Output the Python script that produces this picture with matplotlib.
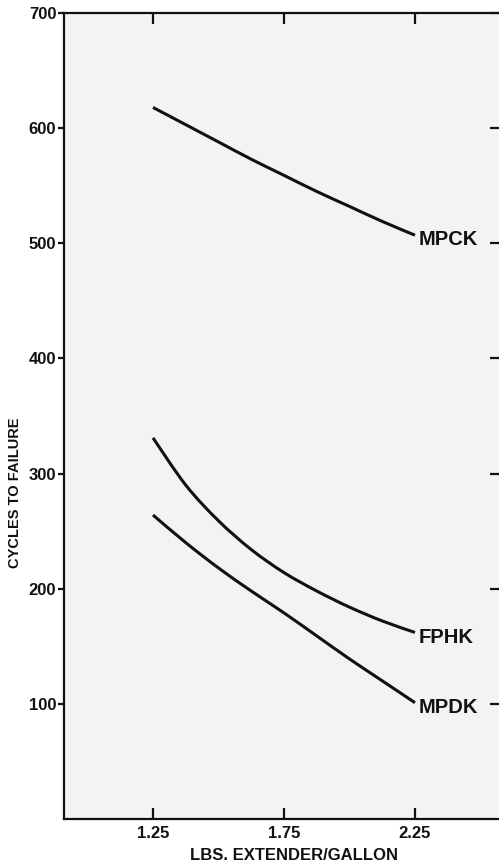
import matplotlib
matplotlib.use("Agg")
import matplotlib.pyplot as plt
from matplotlib.path import Path
from matplotlib.patches import PathPatch
import numpy as np

# Extender loading (lbs per gallon)
extender = [1.25, 1.375, 1.5, 1.625, 1.75, 1.875, 2.0, 2.125, 2.25]

# Cycles to failure for each compound
mpck = [618, 603, 588, 573, 559, 545, 532, 519, 507]
fphk = [331, 290, 259, 234, 214, 198, 184, 172, 162]
mpdk = [264, 240, 218, 198, 179, 159, 139, 120, 101]

series_names = ["MPCK", "FPHK", "MPDK"]
series_values = [mpck, fphk, mpdk]

x_ticks = [1.25, 1.75, 2.25]
x_tick_labels = ["1.25", "1.75", "2.25"]
y_ticks = [100, 200, 300, 400, 500, 600, 700]

plt.rcParams["font.family"] = ["Liberation Sans", "DejaVu Sans"]
plt.rcParams["font.weight"] = "bold"

INK = "#111111"


def smooth_path(xs, ys):
    """Catmull-Rom spline through the points, expressed as cubic Bezier segments."""
    xs = np.asarray(xs, float)
    ys = np.asarray(ys, float)
    pts = np.column_stack([xs, ys])
    verts = [pts[0]]
    codes = [Path.MOVETO]
    n = len(pts)
    for i in range(n - 1):
        p0 = pts[i - 1] if i > 0 else pts[i]
        p1 = pts[i]
        p2 = pts[i + 1]
        p3 = pts[i + 2] if i + 2 < n else pts[i + 1]
        c1 = p1 + (p2 - p0) / 6.0
        c2 = p2 - (p3 - p1) / 6.0
        verts.extend([c1, c2, p2])
        codes.extend([Path.CURVE4] * 3)
    return Path(verts, codes)


W, H = 499, 866
fig = plt.figure(figsize=(W / 100, H / 100), dpi=100)
fig.patch.set_facecolor("white")

left, right, top, bottom = 64, 507, 13, 819
ax = fig.add_axes([left / W, 1 - bottom / H, (right - left) / W, (bottom - top) / H])
ax.set_facecolor("#f3f3f2")

for vals in series_values:
    ax.add_patch(PathPatch(smooth_path(extender, vals), facecolor="none",
                           edgecolor=INK, lw=2.2, capstyle="butt"))

for name, vals in zip(series_names, series_values):
    ax.text(extender[-1] + 0.015, vals[-1] - 4, name, fontsize=14.5,
            fontweight="bold", va="center", ha="left", color=INK)

x_per_px = 1.0 / 262.0
ax.set_xlim(1.25 - (153 - left) * x_per_px, 1.25 + (right - 153) * x_per_px)
ax.set_ylim(0, 700)

ax.set_xticks(x_ticks)
ax.set_xticklabels(x_tick_labels)
ax.set_yticks(y_ticks)

for sp in ax.spines.values():
    sp.set_linewidth(1.6)
    sp.set_color(INK)

ax.tick_params(axis="x", which="both", direction="in", length=8, width=1.6,
               top=True, bottom=True, pad=5, labelsize=12, colors=INK)
ax.tick_params(axis="y", which="both", direction="out", length=4.5, width=1.6,
               left=True, right=True, pad=1, labelsize=12, colors=INK)

# inward ticks on the right-hand spine
for t in ax.yaxis.get_major_ticks():
    t.tick2line.set_marker(matplotlib.lines.TICKLEFT)
    t.tick2line.set_markersize(12)

for lbl in ax.get_xticklabels() + ax.get_yticklabels():
    lbl.set_fontweight("bold")

fig.text(294 / W, 1 - 856 / H, "LBS. EXTENDER/GALLON",
         ha="center", va="center", fontsize=12, fontweight="bold", color=INK)
fig.text(15 / W, 1 - 493 / H, "CYCLES TO FAILURE",
         ha="center", va="center", rotation=90, fontsize=10.5, fontweight="bold",
         color=INK)

fig.savefig("out.png", dpi=100)
